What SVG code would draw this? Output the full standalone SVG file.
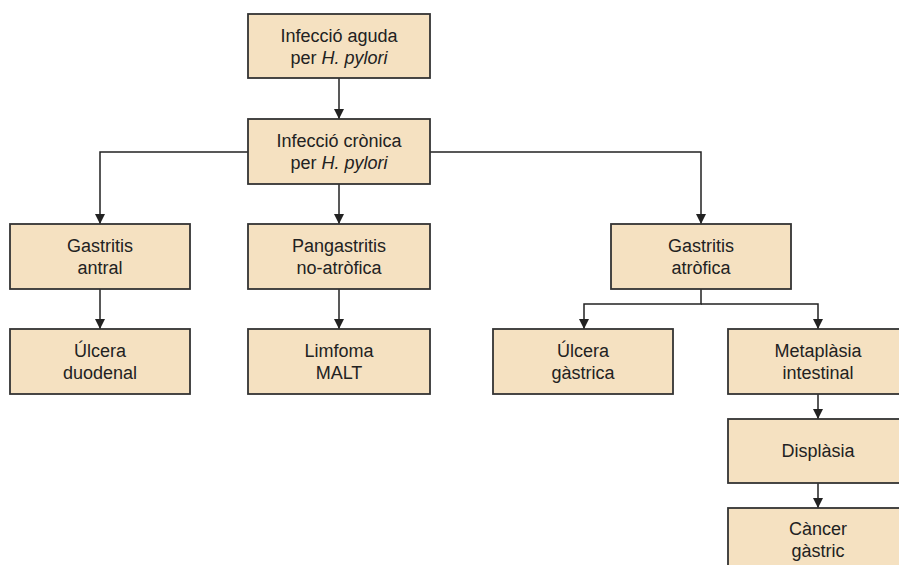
<svg xmlns="http://www.w3.org/2000/svg" width="899" height="565" viewBox="0 0 899 565">
<style>
.box{fill:#f5e1c1;stroke:#333;stroke-width:1.8}
.t{font-family:"Liberation Sans",Arial,sans-serif;font-size:18px;fill:#222;text-anchor:middle}
.c{fill:none;stroke:#222;stroke-width:1.5}
</style>
<defs>
<marker id="ah" markerWidth="10" markerHeight="10" refX="10" refY="5" orient="auto" markerUnits="userSpaceOnUse">
<path d="M0,0 L10,5 L0,10 Z" fill="#222"/>
</marker>
</defs>
<rect width="899" height="565" fill="#fff"/>
<g id="connectors">
<path class="c" d="M339,78 V119" marker-end="url(#ah)"/>
<path class="c" d="M248,152 H100 V224" marker-end="url(#ah)"/>
<path class="c" d="M339,184 V224" marker-end="url(#ah)"/>
<path class="c" d="M430,152 H701 V224" marker-end="url(#ah)"/>
<path class="c" d="M100,289 V329" marker-end="url(#ah)"/>
<path class="c" d="M339,289 V329" marker-end="url(#ah)"/>
<path class="c" d="M701,289 V304 H584 V329" marker-end="url(#ah)"/>
<path class="c" d="M701,304 H818 V329" marker-end="url(#ah)"/>
<path class="c" d="M818,394 V419" marker-end="url(#ah)"/>
<path class="c" d="M818,483 V508" marker-end="url(#ah)"/>
</g>
<g id="n1"><rect class="box" x="248" y="14" width="182" height="64"/>
<text class="t" x="339" y="42">Infecció aguda</text><text class="t" x="339" y="64">per <tspan font-style="italic">H. pylori</tspan></text></g>
<g id="n2"><rect class="box" x="248" y="119" width="182" height="65"/>
<text class="t" x="339" y="147">Infecció crònica</text><text class="t" x="339" y="169">per <tspan font-style="italic">H. pylori</tspan></text></g>
<g id="n3"><rect class="box" x="10" y="224" width="180" height="65"/>
<text class="t" x="100" y="252">Gastritis</text><text class="t" x="100" y="274">antral</text></g>
<g id="n4"><rect class="box" x="248" y="224" width="182" height="65"/>
<text class="t" x="339" y="252">Pangastritis</text><text class="t" x="339" y="274">no-atròfica</text></g>
<g id="n5"><rect class="box" x="611" y="224" width="180" height="65"/>
<text class="t" x="701" y="252">Gastritis</text><text class="t" x="701" y="274">atròfica</text></g>
<g id="n6"><rect class="box" x="10" y="329" width="180" height="65"/>
<text class="t" x="100" y="357">Úlcera</text><text class="t" x="100" y="379">duodenal</text></g>
<g id="n7"><rect class="box" x="248" y="329" width="182" height="65"/>
<text class="t" x="339" y="357">Limfoma</text><text class="t" x="339" y="379">MALT</text></g>
<g id="n8"><rect class="box" x="493" y="329" width="180" height="65"/>
<text class="t" x="583" y="357">Úlcera</text><text class="t" x="583" y="379">gàstrica</text></g>
<g id="n9"><rect class="box" x="728" y="329" width="180" height="65"/>
<text class="t" x="818" y="357">Metaplàsia</text><text class="t" x="818" y="379">intestinal</text></g>
<g id="n10"><rect class="box" x="728" y="419" width="180" height="64"/>
<text class="t" x="818" y="457">Displàsia</text></g>
<g id="n11"><rect class="box" x="728" y="508" width="180" height="70"/>
<text class="t" x="818" y="535">Càncer</text><text class="t" x="818" y="557">gàstric</text></g>
</svg>
